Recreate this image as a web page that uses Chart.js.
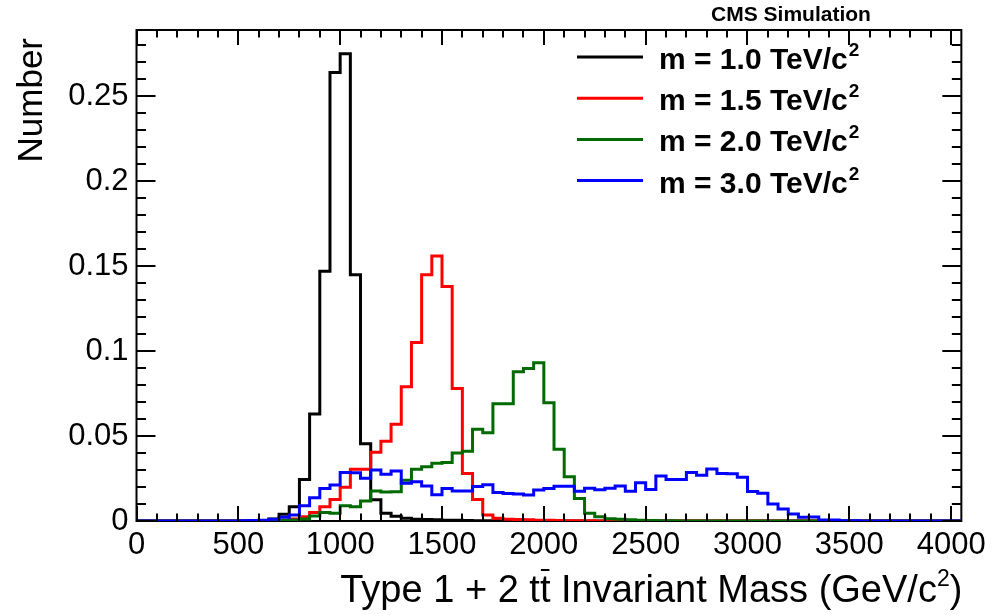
<!DOCTYPE html>
<html><head><meta charset="utf-8">
<script src="https://cdn.jsdelivr.net/npm/chart.js@4.4.1/dist/chart.umd.min.js"></script>
<style>html,body{margin:0;padding:0;background:#fff;overflow:hidden}#wrap{width:992px;height:615px}</style>
</head><body><div id="wrap"><canvas id="c" width="992" height="615"></canvas></div>
<script>
// Histogram binning: 81 bins of 50 GeV/c^2 from 0 to 4050
const binWidth = 50;
const binCount = 81;

// Series values per bin (normalised counts)
const m1000 = [0,0,0,0,0,0,0,0,0,0, 0,0,0.0003,0.0012,0.004,0.0084,0.0245,0.063,0.147,0.264,
  0.275,0.145,0.0455,0.0125,0.0045,0.0028,0.0016,0.0011,0.0009,0.0007, 0.0005,0.0004,0.0003,0.0002,0.0002,0.0001,0.0001,0,0,0,
  0,0,0,0,0,0,0,0,0,0, 0,0,0,0,0,0,0,0,0,0, 0,0,0,0,0,0,0,0,0,0, 0,0,0,0,0,0,0,0,0,0, 0];
const m1500 = [0,0,0,0,0,0,0,0,0,0, 0,0,0,0.0002,0.0005,0.0012,0.0025,0.005,0.0084,0.0127,
  0.0198,0.0304,0.0304,0.0404,0.047,0.057,0.079,0.105,0.145,0.156, 0.138,0.078,0.028,0.0127,0.0035,0.0016,0.0011,0.0009,0.0007,0.0005,
  0.0004,0.0003,0.0002,0.0002,0.0001,0,0,0,0,0, 0,0,0,0,0,0,0,0,0,0, 0,0,0,0,0,0,0,0,0,0, 0,0,0,0,0,0,0,0,0,0, 0];
const m2000 = [0,0,0,0,0,0,0,0,0,0, 0,0,0,0,0.0003,0.0006,0.0012,0.003,0.005,0.0045,
  0.009,0.0084,0.0118,0.0176,0.017,0.0172,0.024,0.0304,0.032,0.034, 0.0345,0.040,0.041,0.054,0.052,0.069,0.069,0.0878,0.0898,0.0931,
  0.0696,0.0422,0.026,0.0133,0.0045,0.0025,0.0013,0.001,0.0007,0.0005, 0.0003,0.0002,0.0001,0,0,0,0,0,0,0, 0,0,0,0,0,0,0,0,0,0, 0,0,0,0,0,0,0,0,0,0, 0];
const m3000 = [0,0,0,0,0,0,0,0,0,0, 0.0002,0.0003,0.0005,0.001,0.0022,0.0035,0.009,0.0137,0.0192,0.0212,
  0.0286,0.0284,0.0251,0.030,0.0275,0.0294,0.0222,0.0231,0.0206,0.0155, 0.0192,0.0176,0.0176,0.0203,0.0213,0.0168,0.0162,0.0159,0.0153,0.0182,
  0.0192,0.0204,0.0204,0.0175,0.0193,0.0184,0.0193,0.0206,0.0175,0.0225, 0.0186,0.0265,0.0245,0.0245,0.0286,0.027,0.0306,0.028,0.0278,0.0257,
  0.0173,0.0163,0.0100,0.0071,0.0041,0.0022,0.0024,0.0006,0.0006,0.0002, 0.0001,0,0,0,0,0,0,0,0,0, 0];

const seriesLabels = ["m = 1.0 TeV/c", "m = 1.5 TeV/c", "m = 2.0 TeV/c", "m = 3.0 TeV/c"];
const seriesColors = ["#000000", "#ff0000", "#006a00", "#0000ff"];
const seriesValues = [m1000, m1500, m2000, m3000];

// Tick labels
const xTickValues = [0, 500, 1000, 1500, 2000, 2500, 3000, 3500, 4000];
const yTickValues = [0, 0.05, 0.1, 0.15, 0.2, 0.25];
const xMinorStep = 100, xMajorEvery = 5;
const yMinorStep = 0.01, yMajorEvery = 5;
const xMax = binWidth * binCount;
const yMax = 0.289;

const FONT = '"Liberation Sans", Arial, Helvetica, sans-serif';

function histPoints(vals) {
  const pts = vals.map((v, i) => ({x: i * binWidth, y: v}));
  pts.push({x: vals.length * binWidth, y: vals[vals.length - 1]});
  return pts;
}

const datasets = seriesValues.map((vals, i) => ({
  label: seriesLabels[i],
  data: histPoints(vals),
  borderColor: seriesColors[i],
  borderWidth: 3,
  pointRadius: 0,
  stepped: true,
  fill: false,
  order: seriesValues.length - i
}));

const framePlugin = {
  id: 'frame',
  beforeDatasetsDraw(chart) {
    const {ctx, chartArea: a} = chart;
    ctx.save();
    ctx.strokeStyle = '#000';
    ctx.lineWidth = 2;
    ctx.strokeRect(a.left, a.top, a.right - a.left, a.bottom - a.top);
    ctx.restore();
  },
  afterDraw(chart) {
    const {ctx, chartArea: a, scales} = chart;
    const xs = scales.x, ys = scales.y;
    ctx.save();
    ctx.strokeStyle = '#000';
    ctx.lineWidth = 2;
    ctx.beginPath();
    // x ticks (bottom and top)
    for (let k = 0; k * xMinorStep <= xMax + 1e-6; k++) {
      const px = Math.round(xs.getPixelForValue(k * xMinorStep));
      const len = (k % xMajorEvery === 0) ? 15 : 7.5;
      ctx.moveTo(px, a.bottom); ctx.lineTo(px, a.bottom - len);
      ctx.moveTo(px, a.top); ctx.lineTo(px, a.top + len);
    }
    // y ticks (left and right)
    for (let k = 0; k * yMinorStep <= yMax + 1e-9; k++) {
      const py = Math.round(ys.getPixelForValue(k * yMinorStep));
      const len = (k % yMajorEvery === 0) ? 19 : 9.5;
      ctx.moveTo(a.left, py); ctx.lineTo(a.left + len, py);
      ctx.moveTo(a.right, py); ctx.lineTo(a.right - len, py);
    }
    ctx.stroke();

    // Legend
    ctx.textBaseline = 'alphabetic';
    chart.data.datasets.forEach((ds, i) => {
      const y = 57 + i * 41.2;
      ctx.strokeStyle = ds.borderColor;
      ctx.lineWidth = 3;
      ctx.beginPath(); ctx.moveTo(577, y); ctx.lineTo(643, y); ctx.stroke();
      ctx.fillStyle = '#000';
      ctx.font = 'bold 30px ' + FONT;
      ctx.textAlign = 'left';
      ctx.fillText(ds.label, 659, y + 12);
      const w = ctx.measureText(ds.label).width;
      ctx.font = 'bold 19px ' + FONT;
      ctx.fillText('2', 659 + w + 1, y - 1);
    });

    // CMS Simulation
    ctx.font = 'bold 21px ' + FONT;
    ctx.textAlign = 'center';
    ctx.fillStyle = '#000';
    ctx.fillText('CMS Simulation', 791, 21);

    // X title (right aligned at axis end)
    const big = '38px ' + FONT, sup = '23px ' + FONT;
    const parts = [
      {t: 'Type 1 + 2 t', f: big},
      {t: 't', f: big, bar: true},
      {t: ' Invariant Mass (GeV/c', f: big},
      {t: '2', f: sup, sup: true},
      {t: ')', f: big}
    ];
    let total = 0;
    parts.forEach(p => { ctx.font = p.f; p.w = ctx.measureText(p.t).width; total += p.w; });
    let x = a.right + 1 - total;
    const base = 602;
    ctx.textAlign = 'left';
    parts.forEach(p => {
      ctx.font = p.f;
      ctx.fillText(p.t, x, p.sup ? base - 16 : base);
      if (p.bar) {
        ctx.lineWidth = 2;
        ctx.strokeStyle = '#000';
        ctx.beginPath(); ctx.moveTo(x + 1, base - 32); ctx.lineTo(x + p.w - 1, base - 32); ctx.stroke();
      }
      x += p.w;
    });

    // Y title
    ctx.save();
    ctx.translate(42, 38);
    ctx.rotate(-Math.PI / 2);
    ctx.font = '35px ' + FONT;
    ctx.textAlign = 'right';
    ctx.fillText('Number', 0, 0);
    ctx.restore();

    ctx.restore();
  }
};

new Chart(document.getElementById('c'), {
  type: 'line',
  data: {datasets},
  options: {
    responsive: false,
    devicePixelRatio: 1,
    animation: false,
    layout: {padding: {top: 30, right: 29, left: 0, bottom: 0}},
    plugins: {legend: {display: false}, tooltip: {enabled: false}},
    elements: {line: {tension: 0}},
    scales: {
      x: {
        type: 'linear', min: 0, max: xMax,
        grid: {display: false, drawTicks: false},
        border: {display: false},
        afterBuildTicks: s => { s.ticks = xTickValues.map(v => ({value: v})); },
        ticks: {color: '#000', padding: 6, maxRotation: 0, minRotation: 0, autoSkip: false,
          font: {size: 31, family: FONT}, callback: v => String(v)},
        afterFit: s => { s.height = 94; }
      },
      y: {
        min: 0, max: yMax,
        grid: {display: false, drawTicks: false},
        border: {display: false},
        afterBuildTicks: s => { s.ticks = yTickValues.map(v => ({value: v})); },
        ticks: {color: '#000', padding: 8, autoSkip: false,
          font: {size: 31, family: FONT},
          callback: v => String(+(+v).toFixed(2))},
        afterFit: s => { s.width = 136.5; }
      }
    }
  },
  plugins: [framePlugin]
});
</script>
</body></html>
